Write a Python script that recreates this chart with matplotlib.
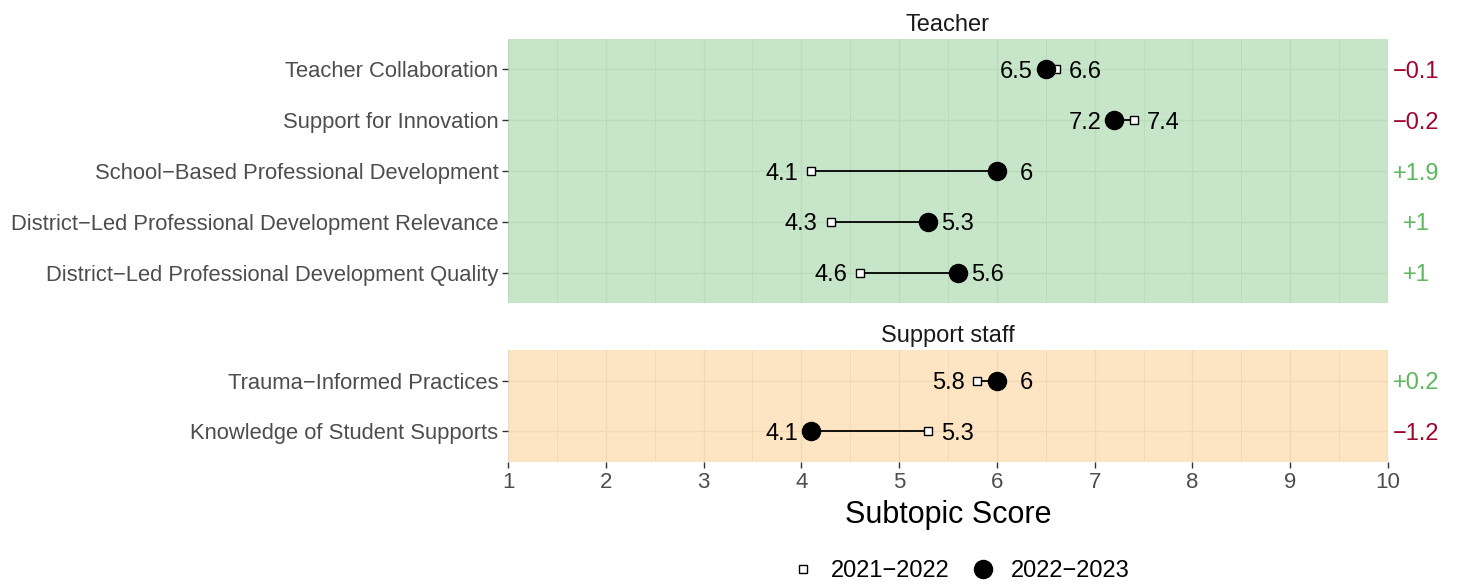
import matplotlib
matplotlib.use("Agg")
import matplotlib.pyplot as plt
from matplotlib.lines import Line2D
import numpy as np

plt.rcParams['font.family'] = ['Liberation Sans', 'DejaVu Sans']

teacher_cats = ["Teacher Collaboration", "Support for Innovation",
                "School\u2212Based Professional Development",
                "District\u2212Led Professional Development Relevance",
                "District\u2212Led Professional Development Quality"]
teacher_prev = [6.6, 7.4, 4.1, 4.3, 4.6]
teacher_curr = [6.5, 7.2, 6.0, 5.3, 5.6]

support_cats = ["Trauma\u2212Informed Practices", "Knowledge of Student Supports"]
support_prev = [5.8, 5.3]
support_curr = [6.0, 4.1]

facet_titles = ["Teacher", "Support staff"]
legend_labels = ["2021\u22122022", "2022\u22122023"]
x_ticks = list(range(1, 11))

W, H = 1460, 584
fig = plt.figure(figsize=(W / 100, H / 100), dpi=100)

left = 508 / W
right = 1388 / W
ax1 = fig.add_axes([left, 1 - 303 / H, right - left, (303 - 39) / H])
ax2 = fig.add_axes([left, 1 - 462 / H, right - left, (462 - 350) / H])

RED = "#A0052D"
GREEN = "#5CB85C"
SQ = 5.5
CI = 13

def fmt(v):
    s = f"{v:.1f}"
    if s.endswith(".0"):
        s = s[:-2]
    return s

def draw(ax, cats, prev, curr, bg, grid, title):
    n = len(cats)
    ys = np.arange(n)[::-1]  # first category on top
    ax.set_facecolor(bg)
    ax.set_xlim(1, 10)
    ax.set_ylim(-0.6, n - 1 + 0.6)
    for xv in np.arange(1.5, 10, 1.0):
        ax.axvline(xv, color=grid, lw=0.6, zorder=0)
    for xv in range(1, 11):
        ax.axvline(xv, color=grid, lw=1.0, zorder=0)
    for yv in ys:
        ax.axhline(yv, color=grid, lw=1.0, zorder=0)
    for y, p, c in zip(ys, prev, curr):
        ax.plot([p, c], [y, y], color="black", lw=1.3, zorder=2)
        ax.plot(p, y, marker="s", ms=SQ, mfc="white", mec="black", mew=1.0, zorder=3, ls="none")
        ax.plot(c, y, marker="o", ms=CI, mfc="black", mec="black", zorder=4, ls="none")
        lo, hi = min(p, c), max(p, c)
        ax.text(lo - 0.3, y, fmt(lo), ha="center", va="center_baseline", fontsize=17, color="black", zorder=5)
        ax.text(hi + 0.3, y, fmt(hi), ha="center", va="center_baseline", fontsize=17, color="black", zorder=5)
        d = round(c - p, 1)
        lab = ("+" if d >= 0 else "\u2212") + fmt(abs(d))
        ax.text(10.29, y, lab, ha="center", va="center_baseline", fontsize=17,
                color=GREEN if d >= 0 else RED, clip_on=False)
    ax.set_yticks(ys)
    ax.set_yticklabels(cats, fontsize=15.8, color="#4D4D4D")
    ax.set_xticks(x_ticks)
    ax.tick_params(axis="both", length=4, width=1.0, color="#333333", pad=3)
    for s in ax.spines.values():
        s.set_visible(False)
    ax.set_title(title, fontsize=17, color="#1A1A1A", pad=6)

draw(ax1, teacher_cats, teacher_prev, teacher_curr, "#C7E5C8", "#B9DCBC", facet_titles[0])
draw(ax2, support_cats, support_prev, support_curr, "#FDE5C3", "#F2D9B5", facet_titles[1])

ax1.tick_params(axis="x", bottom=False, labelbottom=False)
ax2.set_xticklabels([str(t) for t in x_ticks], fontsize=16, color="#4D4D4D")
ax2.set_xlabel("Subtopic Score", fontsize=22, color="black", labelpad=5)

handles = [Line2D([], [], marker="s", ms=SQ, mfc="white", mec="black", ls="none"),
           Line2D([], [], marker="o", ms=CI, mfc="black", mec="black", ls="none")]
fig.legend(handles, legend_labels, loc="center", bbox_to_anchor=(957 / W, 1 - 571 / H),
           ncol=2, frameon=False, fontsize=17, handlelength=1.6, handletextpad=0.4,
           columnspacing=0.6)

fig.savefig("out.png", dpi=100)
